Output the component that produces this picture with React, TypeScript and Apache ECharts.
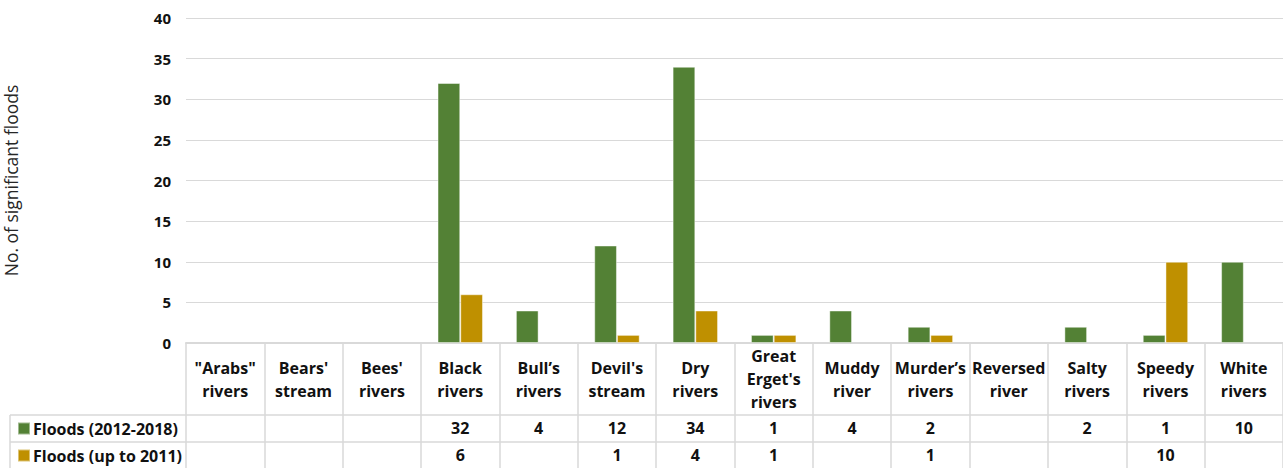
import React, { useEffect, useRef } from "react";
import * as echarts from "echarts";

const categories = [
  '"Arabs"\nrivers',
  "Bears'\nstream",
  "Bees'\nrivers",
  "Black\nrivers",
  "Bull’s\nrivers",
  "Devil's\nstream",
  "Dry\nrivers",
  "Great\nErget's\nrivers",
  "Muddy\nriver",
  "Murder’s\nrivers",
  "Reversed\nriver",
  "Salty\nrivers",
  "Speedy\nrivers",
  "White\nrivers",
];
const seriesNames = ["Floods (2012-2018)", "Floods (up to 2011)"];
const floodsRecent: (number | null)[] = [null, null, null, 32, 4, 12, 34, 1, 4, 2, null, 2, 1, 10];
const floodsOld: (number | null)[] = [null, null, null, 6, null, 1, 4, 1, null, 1, null, null, 10, null];
const yTicks = { min: 0, max: 40, interval: 5 };
const yName = "No. of significant floods";

const FONT = "Open Sans";
const TXT = "#111111";
const GRIDC = "#d9d9d9";
const FS = 16;

export default function App() {
  const ref = useRef<HTMLDivElement>(null);
  useEffect(() => {
    const chart = echarts.init(ref.current!, null, { renderer: "svg" });
    const rowAxis = (vals: (number | null)[], offset: number) => ({
      type: "category",
      data: vals.map((v) => (v == null ? "" : String(v))),
      position: "bottom",
      offset,
      axisLine: { show: false },
      axisTick: { show: false },
      axisLabel: {
        interval: 0,
        margin: 13,
        verticalAlign: "middle",
        fontSize: FS,
        fontWeight: "bold",
        fontFamily: FONT,
        color: TXT,
      },
    });
    chart.setOption({
      animation: false,
      textStyle: { fontFamily: FONT },
      grid: { left: 186, right: 0, top: 18, bottom: 125, containLabel: false, outerBoundsMode: "none" },
      legend: {
        orient: "vertical",
        left: 17,
        top: 420.5,
        padding: 0,
        itemGap: 11,
        itemWidth: 12,
        itemHeight: 12,
        icon: "rect",
        data: seriesNames,
        textStyle: {
          fontSize: FS,
          fontWeight: "bold",
          fontFamily: FONT,
          color: TXT,
          lineHeight: 16,
          padding: [0, 0, 0, -2],
        },
      },
      xAxis: [
        {
          type: "category",
          data: categories,
          position: "bottom",
          axisLine: { lineStyle: { color: GRIDC, width: 2 } },
          axisTick: { show: true, length: 125, lineStyle: { color: GRIDC, width: 1.5 } },
          axisLabel: {
            interval: 0,
            margin: 36,
            verticalAlign: "middle",
            fontSize: FS,
            lineHeight: 23,
            fontWeight: "bold",
            fontFamily: FONT,
            color: TXT,
          },
        },
        rowAxis(floodsRecent, 72),
        rowAxis(floodsOld, 99),
      ],
      yAxis: {
        type: "value",
        min: yTicks.min,
        max: yTicks.max,
        interval: yTicks.interval,
        name: yName,
        nameLocation: "middle",
        nameRotate: 90,
        nameGap: 166,
        nameTextStyle: { fontSize: 17.5, fontFamily: FONT, color: "#262626" },
        axisLine: { show: false },
        axisTick: { show: false },
        splitLine: { lineStyle: { color: GRIDC, width: 1 } },
        axisLabel: {
          margin: 15,
          fontSize: 15,
          fontWeight: "bold",
          fontFamily: FONT,
          color: TXT,
        },
      },
      graphic: [
        { type: "line", shape: { x1: 10, y1: 415, x2: 1283, y2: 415 }, style: { stroke: GRIDC, lineWidth: 1.5 } },
        { type: "line", shape: { x1: 10, y1: 442, x2: 1283, y2: 442 }, style: { stroke: GRIDC, lineWidth: 1.5 } },
        { type: "line", shape: { x1: 10, y1: 415, x2: 10, y2: 468 }, style: { stroke: GRIDC, lineWidth: 1.5 } },
      ],
      series: [
        {
          name: seriesNames[0],
          type: "bar",
          data: floodsRecent,
          barGap: "0%",
          barCategoryGap: "42%",
          itemStyle: { color: "#538135", borderColor: "rgba(255,255,255,0.45)", borderWidth: 1 },
        },
        {
          name: seriesNames[1],
          type: "bar",
          data: floodsOld,
          itemStyle: { color: "#bf9000", borderColor: "rgba(255,255,255,0.45)", borderWidth: 1 },
        },
      ],
    });
    return () => chart.dispose();
  }, []);
  return (
    <div
      ref={ref}
      style={{ position: "fixed", left: 0, top: 0, width: 1283, height: 468, background: "#fff" }}
    />
  );
}
